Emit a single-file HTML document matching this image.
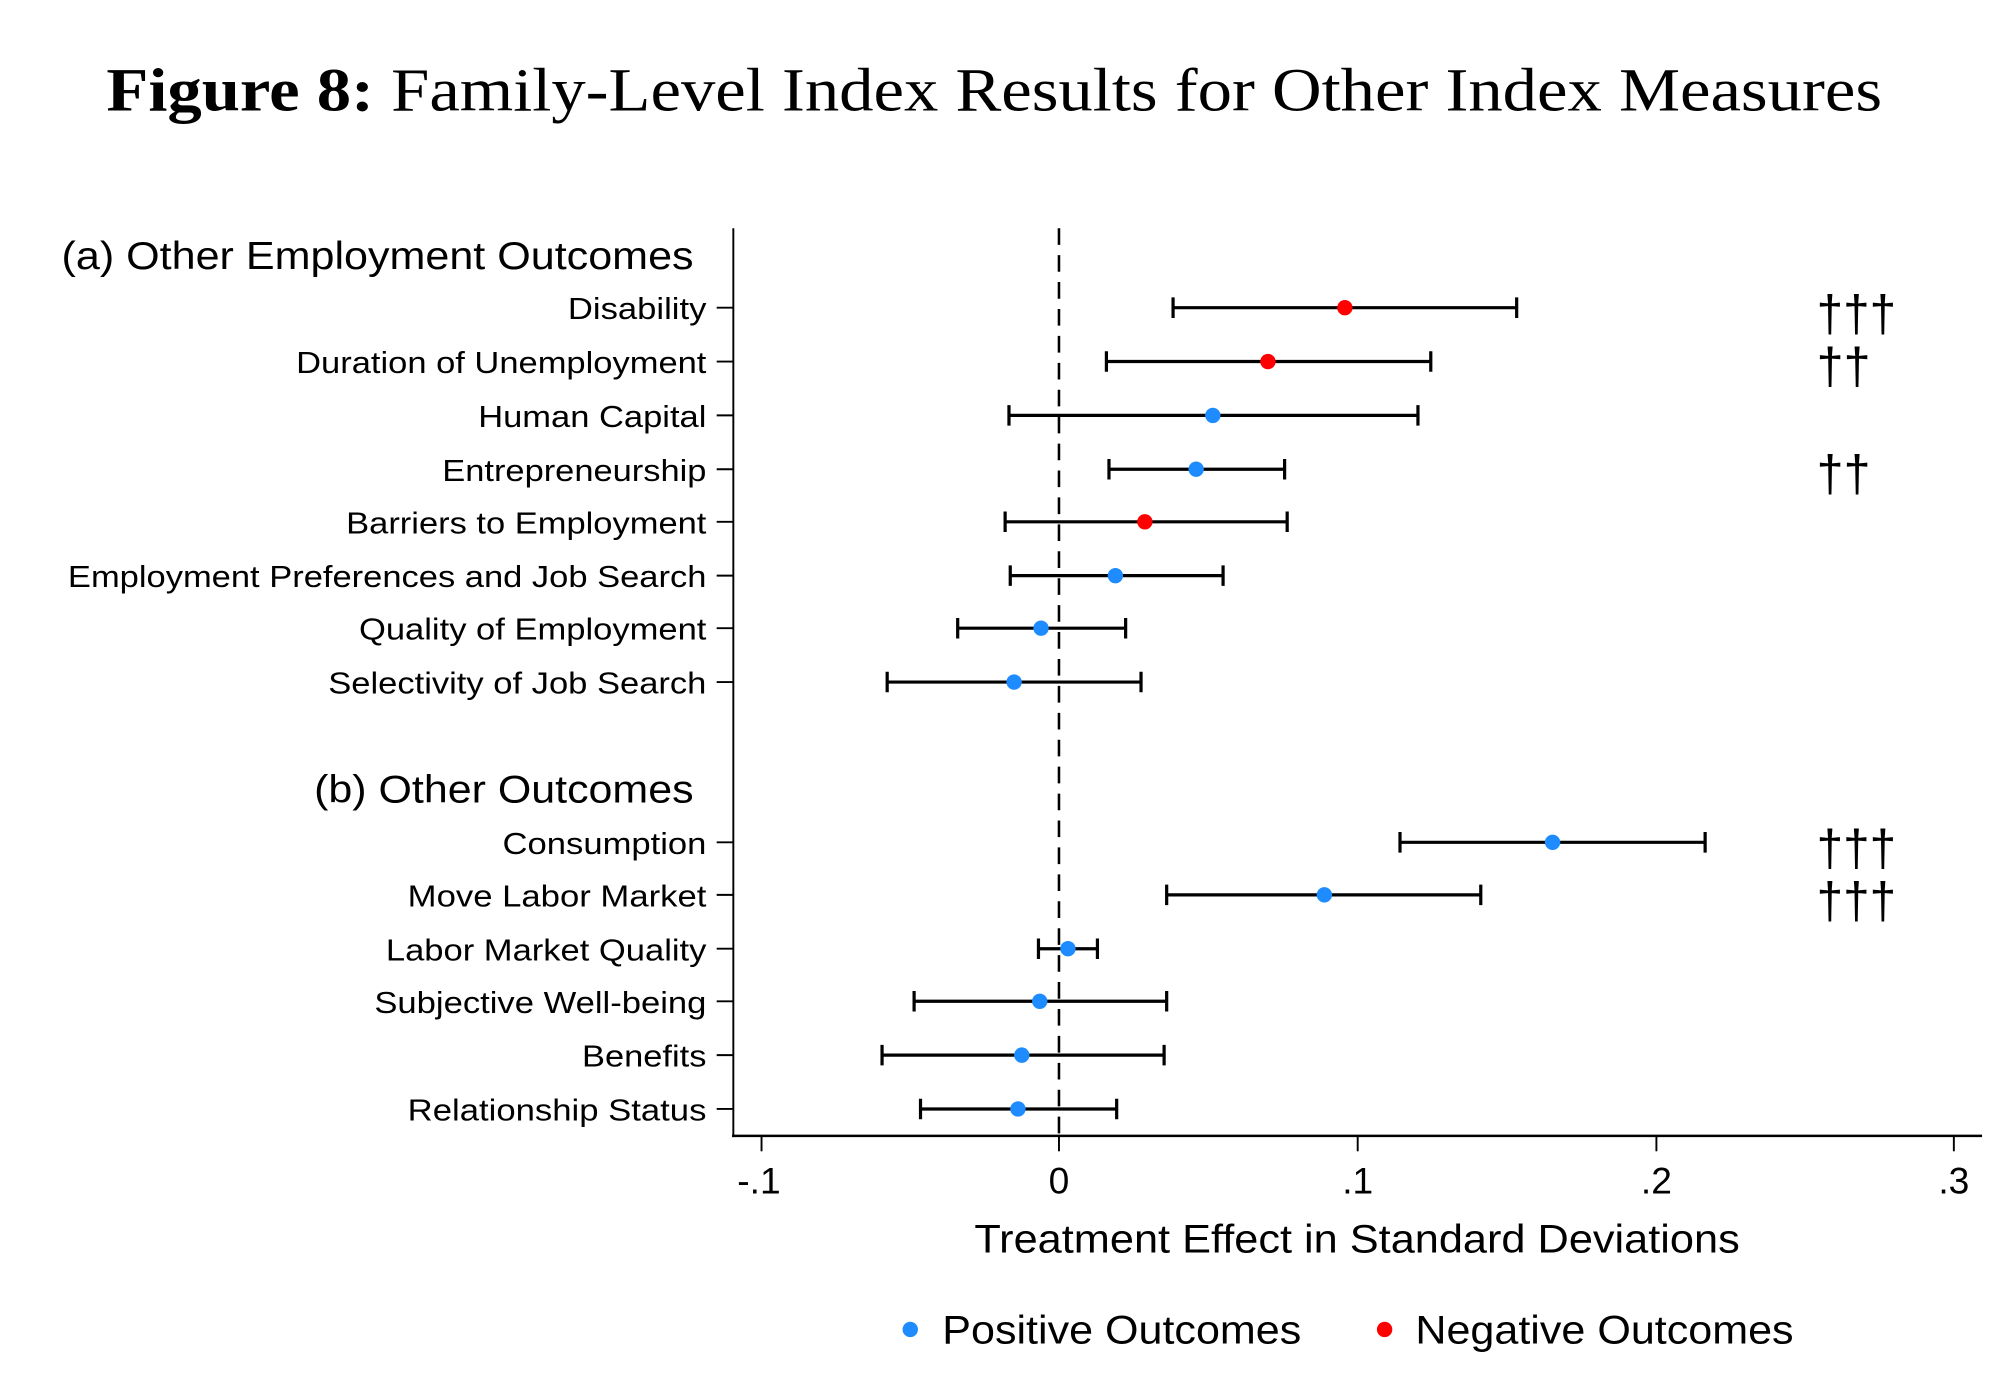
<!DOCTYPE html>
<html><head><meta charset="utf-8"><style>html,body{margin:0;padding:0;background:#fff}svg{display:block}</style></head>
<body>
<svg width="2000" height="1375" viewBox="0 0 1560 1072.5" preserveAspectRatio="none" xmlns="http://www.w3.org/2000/svg" font-family="Liberation Sans, sans-serif">
<rect width="1560" height="1072.5" fill="#fff"/>
<text x="83" y="86" font-family="Liberation Serif, serif" font-size="48" textLength="1385" lengthAdjust="spacingAndGlyphs"><tspan font-weight="bold">Figure 8:</tspan> Family-Level Index Results for Other Index Measures</text>
<line x1="572" y1="178" x2="572" y2="887" stroke="#000" stroke-width="1.5"/>
<line x1="571" y1="886" x2="1546" y2="886" stroke="#000" stroke-width="2"/>
<line x1="826" y1="178" x2="826" y2="886" stroke="#000" stroke-width="2" stroke-dasharray="13,8"/>
<g stroke="#000" stroke-width="1.5">
<line x1="594" y1="886" x2="594" y2="898"/><line x1="826" y1="886" x2="826" y2="898"/><line x1="1059" y1="886" x2="1059" y2="898"/><line x1="1292" y1="886" x2="1292" y2="898"/><line x1="1524" y1="886" x2="1524" y2="898"/>
</g>
<g font-size="29" text-anchor="middle">
<text x="592" y="931">-.1</text><text x="826" y="931">0</text><text x="1059" y="931">.1</text><text x="1292" y="931">.2</text><text x="1524" y="931">.3</text>
</g>
<text x="760" y="977" font-size="31" textLength="597" lengthAdjust="spacingAndGlyphs">Treatment Effect in Standard Deviations</text>
<g font-size="30" lengthAdjust="spacingAndGlyphs">
<text x="48" y="210" textLength="493" lengthAdjust="spacingAndGlyphs">(a) Other Employment Outcomes</text>
<text x="245" y="626" textLength="296" lengthAdjust="spacingAndGlyphs">(b) Other Outcomes</text>
</g>
<g font-size="24">
<text x="443" y="249" textLength="108" lengthAdjust="spacingAndGlyphs">Disability</text>
<text x="231" y="291" textLength="320" lengthAdjust="spacingAndGlyphs">Duration of Unemployment</text>
<text x="373" y="333" textLength="178" lengthAdjust="spacingAndGlyphs">Human Capital</text>
<text x="345" y="375" textLength="206" lengthAdjust="spacingAndGlyphs">Entrepreneurship</text>
<text x="270" y="416" textLength="281" lengthAdjust="spacingAndGlyphs">Barriers to Employment</text>
<text x="53" y="458" textLength="498" lengthAdjust="spacingAndGlyphs">Employment Preferences and Job Search</text>
<text x="280" y="499" textLength="271" lengthAdjust="spacingAndGlyphs">Quality of Employment</text>
<text x="256" y="541" textLength="295" lengthAdjust="spacingAndGlyphs">Selectivity of Job Search</text>
<text x="392" y="666" textLength="159" lengthAdjust="spacingAndGlyphs">Consumption</text>
<text x="318" y="707" textLength="233" lengthAdjust="spacingAndGlyphs">Move Labor Market</text>
<text x="301" y="749" textLength="250" lengthAdjust="spacingAndGlyphs">Labor Market Quality</text>
<text x="292" y="790" textLength="259" lengthAdjust="spacingAndGlyphs">Subjective Well-being</text>
<text x="454" y="832" textLength="97" lengthAdjust="spacingAndGlyphs">Benefits</text>
<text x="318" y="874" textLength="233" lengthAdjust="spacingAndGlyphs">Relationship Status</text>
</g>
<g stroke="#000" stroke-width="1.5">
<line x1="559" y1="240" x2="572" y2="240"/><line x1="559" y1="282" x2="572" y2="282"/><line x1="559" y1="324" x2="572" y2="324"/><line x1="559" y1="366" x2="572" y2="366"/><line x1="559" y1="407" x2="572" y2="407"/><line x1="559" y1="449" x2="572" y2="449"/><line x1="559" y1="490" x2="572" y2="490"/><line x1="559" y1="532" x2="572" y2="532"/><line x1="559" y1="657" x2="572" y2="657"/><line x1="559" y1="698" x2="572" y2="698"/><line x1="559" y1="740" x2="572" y2="740"/><line x1="559" y1="781" x2="572" y2="781"/><line x1="559" y1="823" x2="572" y2="823"/><line x1="559" y1="865" x2="572" y2="865"/>
</g>
<g stroke="#000" stroke-width="2.5" fill="none">
<path d="M915 240H1183M915 232V248M1183 232V248"/>
<path d="M863 282H1116M863 274V290M1116 274V290"/>
<path d="M787 324H1106M787 316V332M1106 316V332"/>
<path d="M865 366H1002M865 358V374M1002 358V374"/>
<path d="M784 407H1004M784 399V415M1004 399V415"/>
<path d="M788 449H954M788 441V457M954 441V457"/>
<path d="M747 490H878M747 482V498M878 482V498"/>
<path d="M692 532H890M692 524V540M890 524V540"/>
<path d="M1092 657H1330M1092 649V665M1330 649V665"/>
<path d="M910 698H1155M910 690V706M1155 690V706"/>
<path d="M810 740H856M810 732V748M856 732V748"/>
<path d="M713 781H910M713 773V789M910 773V789"/>
<path d="M688 823H908M688 815V831M908 815V831"/>
<path d="M718 865H871M718 857V873M871 857V873"/>
</g>
<g fill="#FF0000">
<circle cx="1049" cy="240" r="6"/><circle cx="989" cy="282" r="6"/><circle cx="893" cy="407" r="6"/>
</g>
<g fill="#1E8CFF">
<circle cx="946" cy="324" r="6"/><circle cx="933" cy="366" r="6"/><circle cx="870" cy="449" r="6"/><circle cx="812" cy="490" r="6"/><circle cx="791" cy="532" r="6"/><circle cx="1211" cy="657" r="6"/><circle cx="1033" cy="698" r="6"/><circle cx="833" cy="740" r="6"/><circle cx="811" cy="781" r="6"/><circle cx="797" cy="823" r="6"/><circle cx="794" cy="865" r="6"/>
</g>
<g font-size="40">
<text x="1417" y="258" textLength="62" lengthAdjust="spacingAndGlyphs">†††</text>
<text x="1417" y="299" textLength="42" lengthAdjust="spacingAndGlyphs">††</text>
<text x="1417" y="383" textLength="42" lengthAdjust="spacingAndGlyphs">††</text>
<text x="1417" y="675" textLength="62" lengthAdjust="spacingAndGlyphs">†††</text>
<text x="1417" y="716" textLength="62" lengthAdjust="spacingAndGlyphs">†††</text>
</g>
<circle cx="710" cy="1037" r="6" fill="#1E8CFF"/>
<text x="735" y="1048" font-size="31" textLength="280" lengthAdjust="spacingAndGlyphs">Positive Outcomes</text>
<circle cx="1080" cy="1037" r="6" fill="#FF0000"/>
<text x="1104" y="1048" font-size="31" textLength="295" lengthAdjust="spacingAndGlyphs">Negative Outcomes</text>
</svg>
</body></html>
